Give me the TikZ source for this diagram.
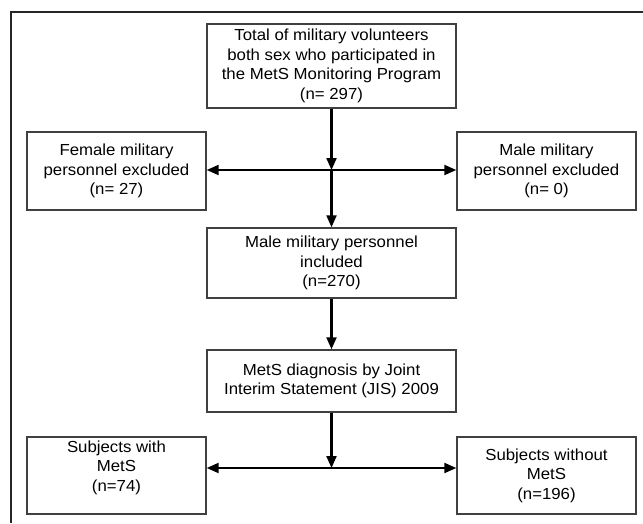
\documentclass[tikz,border=0pt]{standalone}
\usepackage{fontspec}
\setmainfont{Liberation Sans}[FakeStretch=1.05]
\usetikzlibrary{arrows.meta}

\tikzset{
  box/.style={draw=black!75, line width=1.4pt, align=center, inner sep=0pt,
    font=\fontsize{16}{19.5}\selectfont},
  wide/.style={box, minimum width=249pt},
  side/.style={box, minimum width=179pt},
  txt/.style={align=center, inner sep=0pt, font=\fontsize{16}{19.5}\selectfont},
  flow/.style={line width=2.1pt, -{Triangle[length=12pt,width=10pt]}}
}

\begin{document}
\begin{tikzpicture}[x=1pt, y=-1pt]
  %%%%% START %%%%%
  \useasboundingbox (0,0) rectangle (643,523);
  \draw[line width=2.2pt, black!85] (643,12) -- (11,12) -- (11,523);

  \node[wide, minimum height=84pt] (total) at (331.5,66) {Total of military volunteers\\both sex who participated in\\the MetS Monitoring Program\\(n= 297)};
  \node[side, minimum height=78pt] (female) at (116.5,171) {Female military\\personnel excluded\\(n= 27)};
  \node[side, minimum height=78pt] (male) at (546.5,171) {Male military\\personnel excluded\\(n= 0)};
  \node[wide, minimum height=70pt] (included) at (331.5,263) {Male military personnel\\included\\(n=270)};
  \node[wide, minimum height=62pt] (jis) at (331.5,381) {MetS diagnosis by Joint\\Interim Statement (JIS) 2009};
  \node[side, minimum height=77pt] (with) at (116.5,475.5) {};
  \node[txt] (withtxt) at ([yshift=8pt]with.center) {Subjects with\\MetS\\(n=74)};
  \node[side, minimum height=77pt] (without) at (546.5,475.5) {Subjects without\\MetS\\(n=196)};

  \coordinate (split1) at (331.5,170);
  \coordinate (split2) at (331.5,468);

  \draw[flow] (total.south) -- (split1);
  \draw[flow] (split1) -- (split1 -| female.east);
  \draw[flow] (split1) -- (split1 -| male.west);
  \draw[flow] (split1) -- (included.north);
  \draw[flow] (included.south) -- (jis.north);
  \draw[flow] (jis.south) -- (split2);
  \draw[flow] (split2) -- (split2 -| with.east);
  \draw[flow] (split2) -- (split2 -| without.west);
  %%%%% END %%%%%
\end{tikzpicture}
\end{document}
